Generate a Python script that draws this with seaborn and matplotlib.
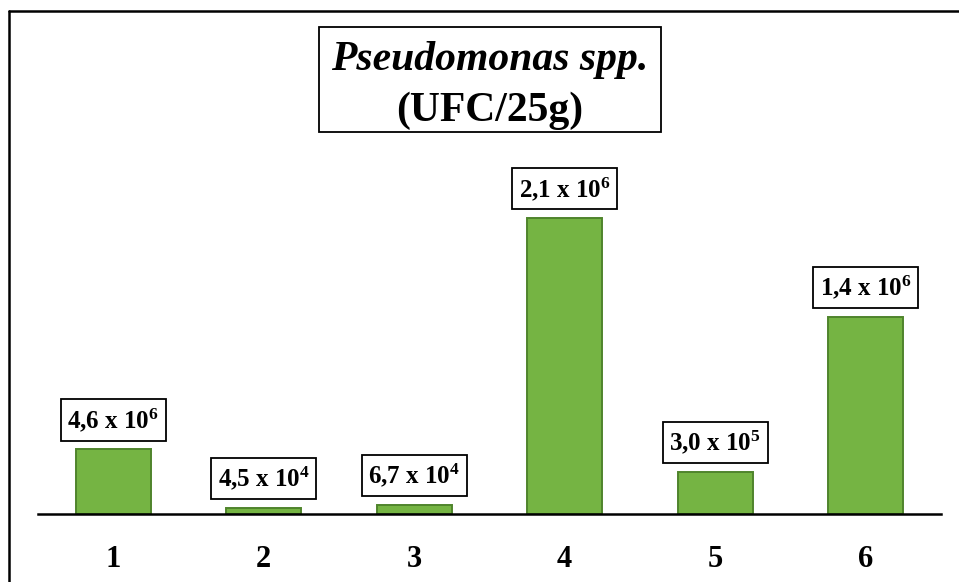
import matplotlib
matplotlib.use("Agg")
import matplotlib.pyplot as plt
import pandas as pd
import seaborn as sns
from matplotlib.patches import Rectangle

# data
samples = ["1", "2", "3", "4", "5", "6"]
counts = [4.6e5, 4.5e4, 6.7e4, 2.1e6, 3.0e5, 1.4e6]
count_labels = ["4,6 x 10$^{6}$", "4,5 x 10$^{4}$", "6,7 x 10$^{4}$",
                "2,1 x 10$^{6}$", "3,0 x 10$^{5}$", "1,4 x 10$^{6}$"]
title_line1 = "Pseudomonas spp."
title_line2 = "(UFC/25g)"

sns.set_theme(style="white")
plt.rcParams["font.family"] = ["Liberation Serif", "DejaVu Serif"]
plt.rcParams["mathtext.default"] = "regular"
plt.rcParams["text.color"] = "black"
plt.rcParams["xtick.color"] = "black"

W, H = 959, 582
fig = plt.figure(figsize=(W / 100, H / 100), dpi=100)

# axes placed in pixel terms: baseline y=514, x from 38 to 941, top at y=27
ax = fig.add_axes([38 / W, (H - 514) / H, (941 - 38) / W, (514 - 27) / H])

df = pd.DataFrame({"sample": samples, "ufc": counts})
sns.barplot(data=df, x="sample", y="ufc", ax=ax, color="#75b443",
            width=0.5, edgecolor="#4f842c", linewidth=1.4, saturation=1)

# 296 px of bar height for the tallest value in the reference
ax.set_ylim(0, max(counts) * (514 - 27) / 296)
ax.set_xlim(-0.5, len(samples) - 0.5)

for p, lab in zip(ax.patches, count_labels):
    ax.annotate(lab, (p.get_x() + p.get_width() / 2, p.get_height()),
                xytext=(0, 11), textcoords="offset points",
                ha="center", va="bottom", fontsize=18, fontweight="bold",
                color="black",
                bbox=dict(boxstyle="square,pad=0.27", fc="white",
                          ec="black", lw=1.3))

for s in ["top", "right", "left"]:
    ax.spines[s].set_visible(False)
ax.spines["bottom"].set_color("black")
ax.spines["bottom"].set_linewidth(1.8)
ax.set_yticks([])
ax.set_xlabel("")
ax.set_ylabel("")
ax.tick_params(axis="x", length=0, pad=22)
for t in ax.get_xticklabels():
    t.set_fontsize(22)
    t.set_fontweight("bold")
    t.set_color("black")
ax.set_facecolor("none")

# title box
cx = (38 + 941) / 2 / W
fig.patches.append(Rectangle((319 / W, 1 - 132 / H), (661 - 319) / W,
                             (132 - 27) / H, transform=fig.transFigure,
                             fill=False, ec="black", lw=1.3))
fig.text(cx, 1 - 70 / H, title_line1, ha="center", va="baseline",
         fontsize=30, fontstyle="italic", fontweight="bold", color="black")
fig.text(cx, 1 - 121 / H, title_line2, ha="center", va="baseline",
         fontsize=30, fontweight="bold", color="black")

# outer frame
fig.add_artist(plt.Line2D([9 / W, 1], [1 - 11 / H, 1 - 11 / H],
                          transform=fig.transFigure, color="black", lw=1.8))
fig.add_artist(plt.Line2D([9 / W, 9 / W], [0, 1 - 11 / H],
                          transform=fig.transFigure, color="black", lw=1.8))

fig.savefig("out.png", dpi=100)
